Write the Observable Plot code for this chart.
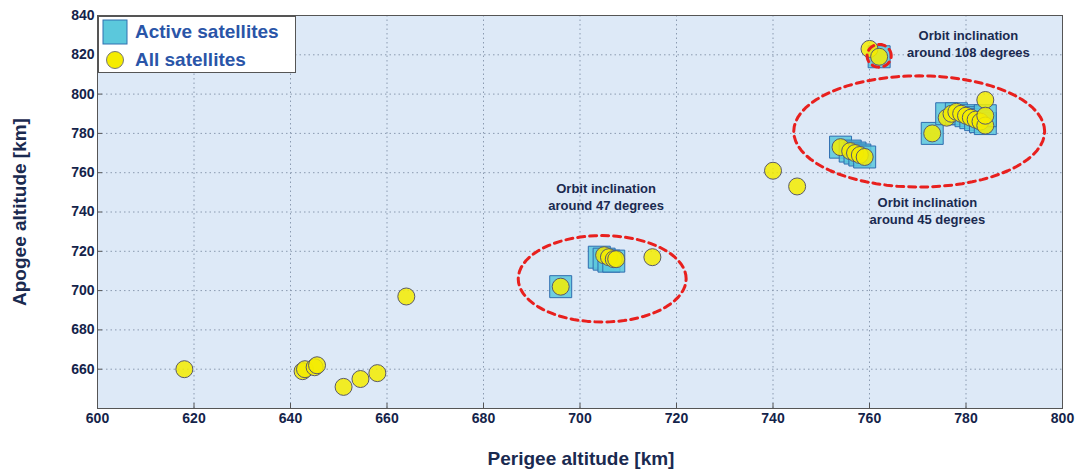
<!DOCTYPE html>
<html><head>
<script src="https://cdn.jsdelivr.net/npm/d3@7"></script>
<script src="https://cdn.jsdelivr.net/npm/@observablehq/plot@0.6"></script>
<style>
body{margin:0;background:#fff;font-family:Arial,"Liberation Sans",sans-serif;}
#wrap{position:relative;width:1082px;height:476px;}
#legend{position:absolute;left:98px;top:16px;width:198px;height:57px;background:#fff;border:1px solid #555;box-sizing:border-box;font-weight:bold;font-size:19px;color:#2a55a8;}
#legend div{position:absolute;left:36px;}
#xl{position:absolute;left:0;width:1082px;top:448px;text-align:center;font-weight:bold;font-size:19px;color:#1a2a50;padding-left:80px;box-sizing:border-box}
#yl{position:absolute;left:20px;top:212px;transform:translate(-50%,-50%) rotate(-90deg);font-weight:bold;font-size:19px;color:#1a2a50;white-space:nowrap}
</style></head><body>
<div id="wrap"><div id="chart"></div>
<div id="legend">
<svg width="196" height="55" style="position:absolute;left:0;top:0">
<rect x="4" y="3" width="24" height="24" fill="#5bc8dc" stroke="#3070b0"/>
<circle cx="16" cy="43" r="8.5" fill="#f5ec00" stroke="#777"/></svg>
<div style="top:4px">Active satellites</div><div style="top:32px">All satellites</div></div>
<div id="xl">Perigee altitude [km]</div><div id="yl">Apogee altitude [km]</div>
</div>
<script>
const xTicks=[600,620,640,660,680,700,720,740,760,780,800];
const yTicks=[660,680,700,720,740,760,780,800,820,840];
const allPerigee=[618,642.5,643,645,645.5,651,654.5,658,664,696,705,706,707,707.5,715,740,745,754,756,757,758,759,760,762,773,776,777,778,779,780,781,782,783,784,784,784];
const allApogee=[660,659,660,661,662,651,655,658,697,702,718,717,716,716,717,761,753,773,771,770,769,768,823,819,780,788,790,791,790,789,788,787,786,784,797,789];
const actPerigee=[696,704,705,706,707,754,756,757,758,759,762,773,776,778,780,781,782,783,784,784];
const actApogee=[702,717,716,715,715,773,771,770,769,768,819,780,790,790,789,788,787,786,785,789];
const ellipses=[{name:"e47",cx:704.6,cy:706,rx:17.4,ry:22},{name:"e45",cx:770.3,cy:781,rx:26,ry:28.3},{name:"e108",cx:762,cy:819.5,rx:2.5,ry:5.8}];
const notes=[{x:705.4,y:748,t:"Orbit inclination\naround 47 degrees"},{x:780.5,y:826,t:"Orbit inclination\naround 108 degrees"},{x:772,y:741,t:"Orbit inclination\naround 45 degrees"}];
const all=allPerigee.map((x,i)=>({x,y:allApogee[i]}));
const act=actPerigee.map((x,i)=>({x,y:actApogee[i]}));
const epts=ellipses.flatMap(e=>d3.range(0,73).map(k=>({e:e.name,x:e.cx+e.rx*Math.cos(k*Math.PI/36),y:e.cy+e.ry*Math.sin(k*Math.PI/36)})));
const plot=Plot.plot({width:1082,height:476,marginLeft:97,marginRight:20,marginTop:15,marginBottom:68,
 style:{background:"transparent",fontFamily:"Arial, Liberation Sans, sans-serif"},
 x:{domain:[600,800],ticks:xTicks,label:null},
 y:{domain:[640,840],ticks:yTicks,label:null},
 marks:[
  Plot.frame({fill:"#dde9f7",stroke:null}),
  Plot.gridX(xTicks,{stroke:"#8a9ab0",strokeOpacity:1,strokeDasharray:"1.5,3"}),
  Plot.gridY(yTicks,{stroke:"#8a9ab0",strokeOpacity:1,strokeDasharray:"1.5,3"}),
  Plot.axisX(xTicks,{tickSize:-5,tickPadding:10,fontSize:14,fontWeight:"bold",fill:"#14234a",stroke:"#555"}),
  Plot.axisY(yTicks,{tickSize:-5,tickPadding:8,fontSize:14,fontWeight:"bold",fill:"#14234a",stroke:"#555"}),
  Plot.frame({stroke:"#555"}),
  Plot.dot(act,{x:"x",y:"y",symbol:"square",r:12.4,fill:"#5bc8dc",fillOpacity:0.85,stroke:"#2f6db0",strokeWidth:1}),
  Plot.dot(all,{x:"x",y:"y",r:8.5,fill:"#f5ec00",fillOpacity:0.85,stroke:"#5a5a6a",strokeWidth:1}),
  Plot.line(epts,{x:"x",y:"y",z:"e",stroke:"#e8201e",strokeWidth:3,strokeDasharray:"7,5"}),
  Plot.text(notes,{x:"x",y:"y",text:"t",fontSize:13,fontWeight:"bold",fill:"#1a2a50",lineHeight:1.3})
 ]});
document.getElementById("chart").appendChild(plot);
</script></body></html>
